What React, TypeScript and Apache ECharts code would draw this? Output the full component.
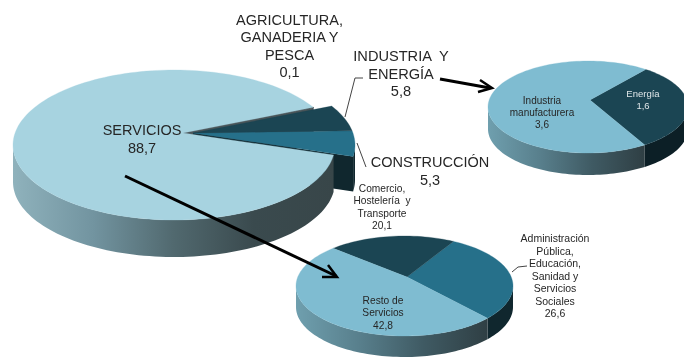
import React, { useEffect, useRef } from "react";
import * as echarts from "echarts";

// ---------- data ----------
const mainNames = ["CONSTRUCCIÓN", "INDUSTRIA  Y\nENERGÍA", "AGRICULTURA,\nGANADERIA Y\nPESCA", "SERVICIOS"];
const mainValues = [5.3, 5.8, 0.1, 88.7];
const industryNames = ["Energía", "Industria\nmanufacturera"];
const industryValues = [1.6, 3.6];
const serviceNames = ["Administración\nPública,\nEducación,\nSanidad y\nServicios\nSociales", "Comercio,\nHostelería  y\nTransporte", "Resto de\nServicios"];
const serviceValues = [26.6, 20.1, 42.8];

const fmt = (v: number) => v.toFixed(1).replace(".", ",");
const FONT = '"Liberation Sans", Arial, sans-serif';

type Geo = { ax: number; ay: number; cx: number; cy: number; rx: number; ry: number; d: number };
type Look = { top: string; wall: any; cut?: string; cutBehind?: boolean; stroke?: string };

const grad = (stops: string[]) =>
  new echarts.graphic.LinearGradient(0, 0, 1, 0, stops.map((color, i) => ({ offset: i / (stops.length - 1), color })));

function edge(g: Geo, deg: number) {
  const t = (deg * Math.PI) / 180;
  const dx = Math.cos(t);
  const dy = -Math.sin(t);
  const ox = (g.ax - g.cx) / g.rx;
  const oy = (g.ay - g.cy) / g.ry;
  const b = ox * dx + oy * dy;
  const c = ox * ox + oy * oy - 1;
  const s = -b + Math.sqrt(b * b - c);
  const nx = ox + s * dx;
  const ny = oy + s * dy;
  return (Math.atan2(-ny, nx) * 180) / Math.PI;
}
function pt(g: Geo, phi: number, dy = 0) {
  const p = (phi * Math.PI) / 180;
  return [g.cx + g.rx * Math.cos(p), g.cy - g.ry * Math.sin(p) + dy];
}
function arc(g: Geo, a: number, b: number, dy = 0) {
  const pts: number[][] = [];
  const n = Math.max(2, Math.ceil(Math.abs(b - a) / 2));
  for (let i = 0; i <= n; i++) pts.push(pt(g, a + ((b - a) * i) / n, dy));
  return pts;
}

function pieRender(values: number[], startDeg: number, geoOf: (i: number) => Geo, lookOf: (i: number) => Look) {
  const total = values.reduce((a, b) => a + b, 0);
  return (params: any) => {
    const i = params.dataIndex;
    const before = values.slice(0, i).reduce((a, b) => a + b, 0);
    const t0 = startDeg + (before / total) * 360;
    const t1 = t0 + (values[i] / total) * 360;
    const g = geoOf(i);
    const look = lookOf(i);
    let p0 = edge(g, t0);
    let p1 = edge(g, t1);
    while (p1 <= p0) p1 += 360;
    const children: any[] = [];
    if (look.cut) {
      const e = pt(g, p0);
      children.push({
        type: "polygon",
        z2: look.cutBehind ? -1 : 0,
        shape: { points: [[g.ax, g.ay], e, [e[0], e[1] + g.d], [g.ax, g.ay + g.d]] },
        style: { fill: look.cut },
      });
    }
    for (const [lo, hi] of [[-180, 0], [180, 360], [540, 720]]) {
      const a = Math.max(p0, lo);
      const b = Math.min(p1, hi);
      if (b > a) {
        children.push({
          type: "polygon",
          shape: { points: [...arc(g, a, b), ...arc(g, b, a, g.d)] },
          style: { fill: look.wall },
        });
      }
    }
    children.push({
      type: "polygon",
      shape: { points: [[g.ax, g.ay], ...arc(g, p0, p1)] },
      style: { fill: look.top, stroke: look.stroke ?? look.top, lineWidth: look.stroke ? 1 : 0.3 },
    });
    return { type: "group", children };
  };
}

const mainRest: Geo = { ax: 183, ay: 133, cx: 174, cy: 145, rx: 161, ry: 75, d: 37 };
const mainOut: Geo = { ax: 193, ay: 133, cx: 194, cy: 145, rx: 161, ry: 75, d: 35 };
const indGeo: Geo = { ax: 590, ay: 100, cx: 588, cy: 107, rx: 100, ry: 46, d: 22 };
const svcGeo: Geo = { ax: 407, ay: 277, cx: 404.5, cy: 286, rx: 108.5, ry: 50, d: 21 };

const DARK = "#1b4553";
const MID = "#26708a";
const LIGHT = "#a7d3e0";
const SKY = "#7fbcd1";
const DEEP = "#10272e";

const mainLook: Look[] = [
  { top: MID, wall: DEEP, cut: DEEP },
  { top: DARK, wall: DEEP },
  { top: "#4a5559", wall: "#4a5559", stroke: "#4a5559", cut: "#4a5559", cutBehind: true },
  { top: LIGHT, wall: grad(["#8fb2bc", "#7294a0", "#51696f", "#3a4a4e", "#384649"]) },
];
const indLook: Look[] = [
  { top: DARK, wall: "#0c1f26" },
  { top: SKY, wall: grad(["#6f9fae", "#587f8c", "#3f5a63", "#2f3f44"]) },
];
const svcLook: Look[] = [
  { top: MID, wall: "#10272e" },
  { top: DARK, wall: DEEP },
  { top: SKY, wall: grad(["#6f9fae", "#587f8c", "#3f5a63", "#2f3f44"]) },
];

function pieSeries(values: number[], start: number, geoOf: (i: number) => Geo, looks: Look[]) {
  return {
    type: "custom",
    coordinateSystem: "none",
    silent: true,
    data: values.map((v) => [v]),
    renderItem: pieRender(values, start, geoOf, (i) => looks[i]),
  };
}

function label(text: string, x: number, y: number, size: number, lh: number, fill = "#262626") {
  return {
    type: "text",
    x,
    y: y - lh / 2,
    z: 10,
    style: { text, fontFamily: FONT, fontSize: size, lineHeight: lh, fill, align: "center", verticalAlign: "top" },
  };
}
function line(points: number[][], lineWidth: number, stroke: string) {
  return { type: "polyline", z: 9, shape: { points }, style: { stroke, lineWidth, fill: "none" } };
}

export default function App() {
  const ref = useRef<HTMLDivElement>(null);
  useEffect(() => {
    document.body.style.margin = "0";
    const chart = echarts.init(ref.current!, undefined, { renderer: "svg" });
    chart.setOption({
      animation: false,
      backgroundColor: "#ffffff",
      series: [
        pieSeries(mainValues, -17.4, (i) => (i < 2 ? mainOut : mainRest), mainLook),
        pieSeries(industryValues, -60.7, () => indGeo, indLook),
        pieSeries(serviceValues, -48, () => svcGeo, svcLook),
      ],
      graphic: [
        label(`${mainNames[2]}\n${fmt(mainValues[2])}`, 289.5, 20, 14.5, 17.3),
        label(`${mainNames[1]}\n${fmt(mainValues[1])}`, 401, 56, 14.6, 17.5),
        label(`${mainNames[0]}\n${fmt(mainValues[0])}`, 430, 162, 14.5, 17.5),
        label(`${mainNames[3]}\n${fmt(mainValues[3])}`, 142, 130, 14.5, 18),
        label(`${serviceNames[1]}\n${fmt(serviceValues[1])}`, 382, 188, 10.2, 12.5),
        label(`${serviceNames[0]}\n${fmt(serviceValues[0])}`, 555, 238, 10.5, 12.5),
        label(`${serviceNames[2]}\n${fmt(serviceValues[2])}`, 383, 300, 10.2, 12.5),
        label(`${industryNames[1]}\n${fmt(industryValues[1])}`, 542, 101, 10, 11.6),
        label(`${industryNames[0]}\n${fmt(industryValues[0])}`, 643, 94, 9.5, 11.6, "#dfe6e8"),
        line([[345, 117], [355, 78], [363, 78]], 1, "#444444"),
        line([[357, 143], [366, 167]], 1, "#444444"),
        line([[512, 272], [518, 267], [527, 266]], 1, "#444444"),
        line([[440, 79], [490, 88]], 3, "#000000"),
        line([[480, 80], [492, 88], [478, 92]], 2.5, "#000000"),
        line([[125, 176], [336, 276]], 3, "#000000"),
        line([[328, 265], [337, 277], [322, 277]], 2.5, "#000000"),
      ],
    });
    return () => chart.dispose();
  }, []);
  return <div ref={ref} style={{ width: 684, height: 358, filter: "blur(0.5px)" }} />;
}
